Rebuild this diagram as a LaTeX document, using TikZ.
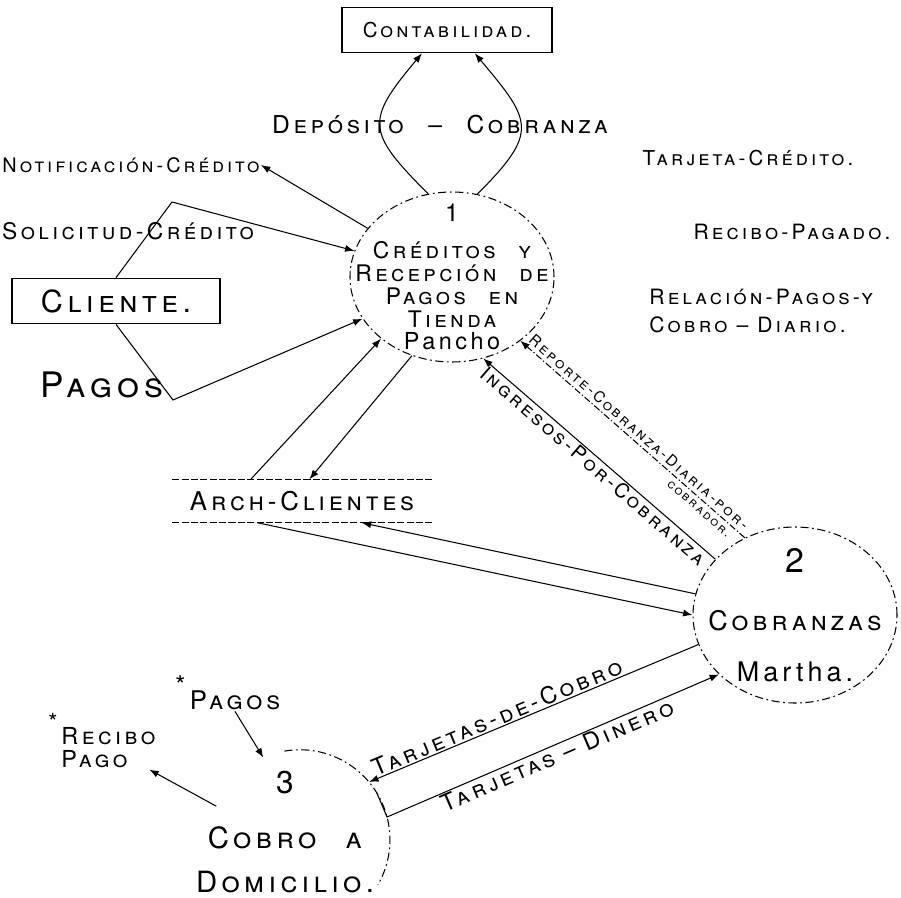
\documentclass[tikz,border=0pt]{standalone}
\usepackage{fontspec}
\newfontfamily\handsc[Letters=SmallCaps,LetterSpace=15]{TeX Gyre Heros}
\newfontfamily\handlc[LetterSpace=15]{TeX Gyre Heros}
\usetikzlibrary{positioning,arrows.meta,shapes.geometric}

\begin{document}
\begin{tikzpicture}[x=0.03cm,y=0.03cm,
  hw/.style={inner sep=1pt,font=\handsc\fontsize{#1}{#1}\selectfont},
  ent/.style={draw,line width=0.9pt,minimum height=1.37cm,inner sep=0pt},
  procline/.style={line width=0.9pt,dash pattern=on 7pt off 3pt on 1.5pt off 3pt},
  proc/.style={ellipse,draw,procline,inner sep=0pt},
  flow/.style={line width=0.9pt,-{Latex[length=8pt,width=6pt]}},
  store/.style={line width=0.9pt,dash pattern=on 6pt off 2pt}]
\useasboundingbox (0,0) rectangle (901,-897);
% external entities
\node[ent,minimum width=6.3cm,hw=17.5] (conta) at (447,-30) {Contabilidad.};
\node[ent,minimum width=6.24cm,hw=26] (cliente) at (116,-301) {Cliente.};
% processes
\node[proc,minimum width=6.12cm,minimum height=5.1cm,
  label={[align=center,font=\handsc\fontsize{19.5}{19.6}\selectfont]center:{{\handlc\fontsize{21}{21}\selectfont 1}\\[12pt]Créditos\quad y\\Recepción\quad de\\Pagos\quad en\\Tienda\\{\handlc\fontsize{20}{20}\selectfont Pancho}}}] (p1) at (452,-277) {};
\node[proc,minimum width=6.12cm,minimum height=5.28cm,
  label={[align=center,font=\handsc\fontsize{23}{43}\selectfont]center:{{\handlc\fontsize{29}{43}\selectfont 2}\\[7pt]Cobranzas\\{\handlc\fontsize{23}{43}\selectfont Martha.}}}] (p2) at (795,-615) {};
\node[circle,minimum size=5.4cm,inner sep=0pt,
  label={[align=center,xshift=-0.45cm,yshift=0.24cm,font=\handsc\fontsize{25}{37}\selectfont]center:{{\handlc\fontsize{27}{37}\selectfont 3}\\[10pt]Cobro\quad a\\Domicilio.}}] (p3) at (300,-840) {};
\draw[procline] (p3.100) arc[start angle=100,end angle=-30,radius=2.7cm];
% data store
\node[minimum width=7.77cm,minimum height=1.29cm,hw=22] (arch) at (302,-501) {Arch-Clientes};
\draw[store] (arch.north west) -- (arch.north east) (arch.south west) -- (arch.south east);
% free texts
\node[hw=17] (notif) at (131,-165) {Notificación-Crédito};
\node[hw=19.5] (solic) at (128,-231) {Solicitud-Crédito};
\node[hw=30] (pagos) at (102,-385) {Pagos};
\node[hw=17.5] (tarjcred) at (748,-158) {Tarjeta-Crédito.};
\node[hw=18] (recpag) at (792,-232) {Recibo-Pagado.};
\node[hw=18,align=left,anchor=west] (relac) at (648,-311) {Relación-Pagos-y\\[6pt]Cobro – Diario.};
\node[hw=21] (depcob) at (440,-125) {Depósito\quad–\quad Cobranza};
\node[hw=22] (pagos3) at (235,-693) {\llap{\raisebox{1.1ex}{*}\,}Pagos};
\node[hw=20,align=left,anchor=west] (recibo) at (60,-741) {\llap{\raisebox{1.1ex}{*}\,}Recibo\\Pago};
\coordinate (solbend) at (172,-202);
\coordinate (pagbend) at (173,-400);
\coordinate (dinbend) at (387,-817);
% flows
\draw[flow] (p1.106) to[out=135,in=230,looseness=1.6] (conta.223);
\draw[flow] (p1.73) to[out=45,in=-50,looseness=1.6] (conta.-40);
\draw[flow] (p1.150) -- (notif.east);
\draw[flow] (cliente.north) -- (solbend) -- (p1.165);
\draw[flow] (cliente.south) -- (pagbend) -- (p1.205);
\draw[flow] (arch.157) -- (p1.221);
\draw[flow] (p1.243) -- (arch.71);
\draw[flow] (arch.206) -- (p2.180);
\draw[flow] (p2.168) -- (arch.340);
\draw[flow,dash pattern=on 6pt off 2pt on 1pt off 2pt] (p2.123) -- node[hw=13,sloped,above=2pt] (reptxt) {Reporte-Cobranza-Diaria-por-} node[hw=11,sloped,below=3pt,pos=0.18] (repcob) {cobrador.} (p1.317);
\draw[flow] (p2.145) -- node[hw=17,sloped,below] (ingtxt) {Ingresos-Por-Cobranza} (p1.291);
\draw[flow] (p2.197) -- node[hw=20,sloped,above,pos=0.6] (cobtxt) {Tarjetas-de-Cobro} (p3.40);
\draw[flow] (p3.32) -- (dinbend) -- node[hw=20,sloped,below] (dintxt) {Tarjetas – Dinero} (p2.218);
\draw[flow] (pagos3.south) -- (p3.114);
\draw[flow] (p3.158) -- (recibo.-35);
\end{tikzpicture}
\end{document}
